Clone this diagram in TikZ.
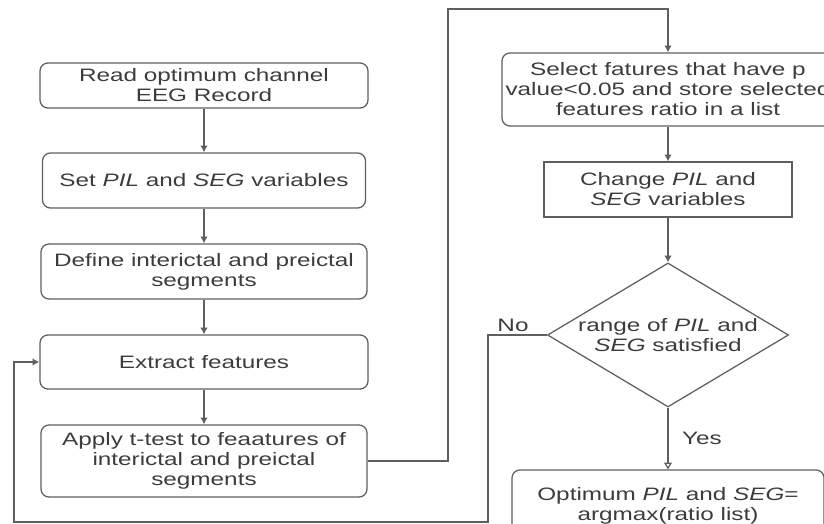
\documentclass[tikz,border=0pt]{standalone}
\usepackage{fontspec}
\setmainfont{Liberation Sans}[FakeStretch=1.35]
\usepackage{tikz}
\usetikzlibrary{shapes.geometric}
\usetikzlibrary{arrows,arrows.meta}
\definecolor{linegray}{RGB}{95,95,95}
\definecolor{txtgray}{RGB}{60,60,60}

\begin{document}
\begin{tikzpicture}[x=0.025cm, y=-0.025cm, line width=0.9pt, linegray,
    font=\fontsize{12.8}{14.2}\selectfont,
    flowbox/.style={draw=linegray, rounded corners=0.2cm, align=center, inner sep=0pt, text=txtgray},
    flowarrow/.style={-{Latex[length=0.17cm,width=0.19cm]}},
    yesarrow/.style={-{Triangle[open,length=0.17cm,width=0.2cm]}}]

    \useasboundingbox (0,0) rectangle (824,524);
    \clip (0,0) rectangle (824,524);

    % left column
    \node[flowbox, minimum width=8.2cm, minimum height=1.125cm] (read) at (204,85.5) {Read optimum channel\\EEG Record};
    \node[flowbox, minimum width=8.075cm, minimum height=1.375cm] (setvar) at (204,180.5) {Set \textit{PIL} and \textit{SEG} variables};
    \node[flowbox, minimum width=8.15cm, minimum height=1.375cm] (define) at (204,271.5) {Define interictal and preictal\\segments};
    \node[flowbox, minimum width=8.2cm, minimum height=1.35cm] (extract) at (204,362) {Extract features};
    \node[flowbox, minimum width=8.15cm, minimum height=1.8cm] (ttest) at (204,461) {Apply t-test to feaatures of\\interictal and preictal\\segments};

    % right column
    \node[flowbox, minimum width=8.3cm, minimum height=1.825cm] (select) at (668,89.5) {Select fatures that have p\\value<0.05 and store selected\\features ratio in a list};
    \node[flowbox, rounded corners=0pt, minimum width=6.2cm, minimum height=1.375cm] (change) at (668,189.5) {Change \textit{PIL} and\\\textit{SEG} variables};
    \node[flowbox, rounded corners=0pt, shape=diamond, aspect=1.67, minimum width=6.025cm, minimum height=3.6cm] (dia) at (668,335) {range of \textit{PIL} and\\\textit{SEG} satisfied};
    \node[flowbox, minimum width=7.8cm, minimum height=1.8cm] (optimum) at (668,506) {Optimum \textit{PIL} and \textit{SEG}=\\argmax(ratio list)};

    \node[txtgray] (nolabel) at (513,325) {No};
    \node[txtgray] (yeslabel) at (702,438) {Yes};

    \coordinate (topturn) at (448,9);
    \coordinate (nodown) at (488,522);
    \coordinate (backleft) at (14,522);

    \draw[flowarrow] (read) -- (setvar);
    \draw[flowarrow] (setvar) -- (define);
    \draw[flowarrow] (define) -- (extract);
    \draw[flowarrow] (extract) -- (ttest);
    \draw[flowarrow] (ttest.east) -| (topturn) -| (select.north);
    \draw[flowarrow] (select) -- (change);
    \draw[flowarrow] (change) -- (dia);
    \draw[yesarrow] (dia) -- (optimum);
    \draw[flowarrow] (dia.west) -| (nodown) -- (backleft) |- (extract.west);

\end{tikzpicture}
\end{document}
